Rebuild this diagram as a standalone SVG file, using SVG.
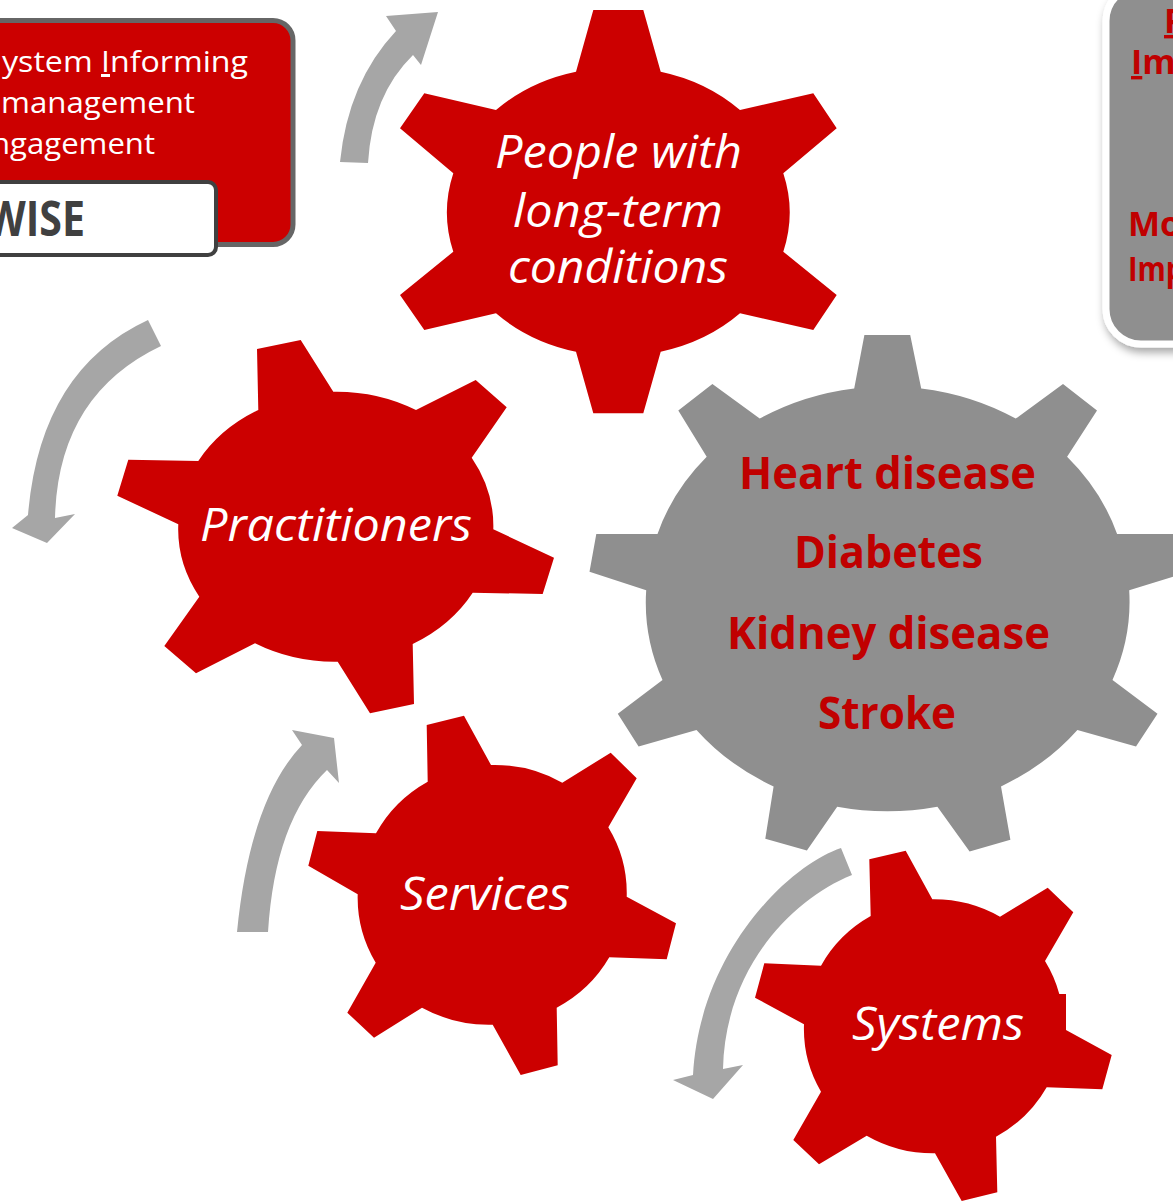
<svg xmlns="http://www.w3.org/2000/svg" width="1173" height="1201" viewBox="0 0 1173 1201">
<style>
.red{fill:#cc0000}
.gray{fill:#8f8f8f}
.arrow{fill:#a6a6a6}
.gt{font-family:"Open Sans","Liberation Sans",sans-serif;font-style:italic;font-size:46px;fill:#ffffff;text-anchor:start}
.dt{font-family:"Open Sans","Liberation Sans",sans-serif;font-weight:bold;font-size:45px;fill:#c00000}
.bt{font-family:"Open Sans","Liberation Sans",sans-serif;font-size:30px;fill:#ffffff}
.rt{font-family:"Open Sans","Liberation Sans",sans-serif;font-weight:bold;font-size:34px;fill:#c00000}
.ul{text-decoration:underline}
</style>
<defs>
<filter id="shadow" x="-20%" y="-20%" width="140%" height="140%">
<feDropShadow dx="2" dy="5" stdDeviation="4" flood-color="#000" flood-opacity="0.35"/>
</filter>
</defs>

<g id="box-left">
<rect x="-20" y="20.5" width="313" height="224" rx="20" fill="#cc0000" stroke="#666666" stroke-width="5"/>
<text class="bt" x="2" y="72" textLength="246" lengthAdjust="spacingAndGlyphs">ystem <tspan class="ul">I</tspan>nforming</text>
<text class="bt" x="1" y="113" textLength="194" lengthAdjust="spacingAndGlyphs">management</text>
<text class="bt" x="-9" y="154" textLength="164" lengthAdjust="spacingAndGlyphs">ngagement</text>
</g>

<g id="box-wise">
<rect x="-20" y="182" width="236" height="73" rx="8" fill="#ffffff" stroke="#404040" stroke-width="4"/>
<text x="-14" y="236" font-family="Open Sans, Liberation Sans, sans-serif" font-weight="bold" font-size="48" fill="#404040" textLength="99" lengthAdjust="spacingAndGlyphs">WISE</text>
</g>

<g id="box-right">
<rect x="1106" y="-14" width="120" height="358" rx="35" fill="#8f8f8f" stroke="#ffffff" stroke-width="7" filter="url(#shadow)"/>
<text class="rt" x="1164" y="33"><tspan class="ul">P</tspan></text>
<text class="rt" x="1131" y="74"><tspan class="ul">I</tspan>m</text>
<text class="rt" x="1128" y="236">Mo</text>
<text class="rt" x="1128" y="281" textLength="56" lengthAdjust="spacingAndGlyphs">Imp</text>
</g>

<g id="gear-people">
<path class="red" d="M576,71.7 L593.3,10 L643.3,10 L660.7,71.7 A170,145 0 0 1 740,110 L813.3,93.3 L836.7,128.3 L783.3,173.3 A170,145 0 0 1 783.3,251.7 L836.7,295 L813.3,330 L740,313.3 A170,145 0 0 1 660.7,351.7 L643.3,413.3 L593.3,413.3 L576,351.7 A170,145 0 0 1 496,313.3 L424.3,330 L400,295 L453.3,251.7 A170,145 0 0 1 453.3,173.3 L400,128.3 L424.3,93.3 L496,110 A170,145 0 0 1 576,71.7 Z"/>
<text class="gt" x="495" y="168" textLength="247" lengthAdjust="spacingAndGlyphs">People with</text>
<text class="gt" x="513" y="227" textLength="210" lengthAdjust="spacingAndGlyphs">long-term</text>
<text class="gt" x="508" y="283" textLength="220" lengthAdjust="spacingAndGlyphs">conditions</text>
</g>

<g id="gear-practitioners">
<path class="red" d="M258.3,410 L257,349 L300.7,340 L333.3,391.7 A158,135 0 0 1 416,410 L475.7,380 L506.7,407.3 L471.7,457.7 A158,135 0 0 1 493.3,529.3 L554,557.7 L542.7,594 L472.7,592.7 A158,135 0 0 1 412.7,644 L414,704 L370,713.3 L337.7,661.7 A158,135 0 0 1 255,643.3 L196,673.3 L164.3,646 L199.3,596.7 A158,135 0 0 1 178.3,524.3 L117.3,495.7 L128.3,459.7 L198.3,461 A158,135 0 0 1 258.3,410 Z"/>
<text class="gt" x="200" y="541" textLength="272" lengthAdjust="spacingAndGlyphs">Practitioners</text>
</g>

<g id="gear-services">
<path class="red" d="M427.7,781.7 L426.7,725 L464,715.7 L491,765 A135,130 0 0 1 562.3,782.7 L610.7,752.7 L636.7,778.3 L608.3,827.3 A135,130 0 0 1 626.7,896.7 L676,923.3 L666.7,959.3 L609.3,957.3 A135,130 0 0 1 556.7,1007.7 L557.7,1065.3 L520.7,1075 L492.7,1024.7 A135,130 0 0 1 422,1007.7 L374,1037.7 L347.3,1012.7 L375.7,962.7 A135,130 0 0 1 357.7,894.3 L308.3,865.7 L317.3,831 L376,833.3 A135,130 0 0 1 427.7,781.7 Z"/>
<text class="gt" x="400" y="910" textLength="170" lengthAdjust="spacingAndGlyphs">Services</text>
</g>

<g id="gear-systems">
<path class="red" d="M870.7,916 L869.3,859.3 L905.7,850.7 L932.3,899.3 A131,127 0 0 1 1000,916.7 L1047.7,887.7 L1073.3,912.3 L1045,961 A131,127 0 0 1 1059.3,994 L1066,994 L1066,1030 L1111.7,1055 L1102.3,1089.3 L1046.7,1087.3 A131,127 0 0 1 996,1136.7 L997.3,1192.3 L961.7,1201 L935,1153.3 A131,127 0 0 1 866.7,1135.7 L819,1164.3 L793.3,1140 L821,1091.7 A131,127 0 0 1 804,1024.3 L755,997.7 L764.3,963.3 L821,965.7 A131,127 0 0 1 870.7,916 Z"/>
<text class="gt" x="852" y="1040" textLength="172" lengthAdjust="spacingAndGlyphs">Systems</text>
</g>

<g id="gear-conditions">
<path class="gray" d="M854.2,388.5 L864.4,335.1 L910.2,335.1 L921.2,388.5 A242,212 0 0 1 1015.7,418.6 L1063,384.1 L1097,410.5 L1067.1,456.8 A242,212 0 0 1 1117.1,533.9 L1185,533.9 L1185,573 L1129.2,590.3 A242,212 0 0 1 1112.5,679.9 L1157.5,713.7 L1136,746.5 L1077.4,729.9 A242,212 0 0 1 1001,786.4 L1010.4,839.8 L969.6,851.6 L937.4,806.7 A242,212 0 0 1 837.2,806.7 L806.9,850.6 L765.3,838.8 L773.6,786.4 A242,212 0 0 1 696.5,729.9 L638.6,746.5 L617.8,713.7 L662.5,679.9 A242,212 0 0 1 646.2,590.3 L589.5,571.7 L596.3,533.9 L657.5,533.9 A242,212 0 0 1 706.7,456.8 L678.3,410.5 L712.4,384.1 L759.7,418.6 A242,212 0 0 1 854.2,388.5 Z"/>
<text class="dt" x="739" y="489" textLength="297" lengthAdjust="spacingAndGlyphs">Heart disease</text>
<text class="dt" x="794" y="568" textLength="189" lengthAdjust="spacingAndGlyphs">Diabetes</text>
<text class="dt" x="727" y="649" textLength="323" lengthAdjust="spacingAndGlyphs">Kidney disease</text>
<text class="dt" x="818" y="729" textLength="138" lengthAdjust="spacingAndGlyphs">Stroke</text>
</g>

<g id="connectors">
<path class="arrow" d="M340,162 Q348,82 396,31 L386,16 L438,12 L421,65 L413,55 Q372,95 368,163 Z"/>
<path class="arrow" d="M148,320 Q40,370 28,515 L12,528 L47,543 L75,514 L55,518 Q58,395 161,346 Z"/>
<path class="arrow" d="M237,932 Q250,800 302,745 L292,730 L334,738 L339,783 L327,770 Q275,820 268,932 Z"/>
<path class="arrow" d="M841,848 C790,865 700,950 693,1075 L673,1080 L713,1099 L743,1065 L723,1069 C725,970 790,900 852,875 Z"/>
</g>
</svg>
